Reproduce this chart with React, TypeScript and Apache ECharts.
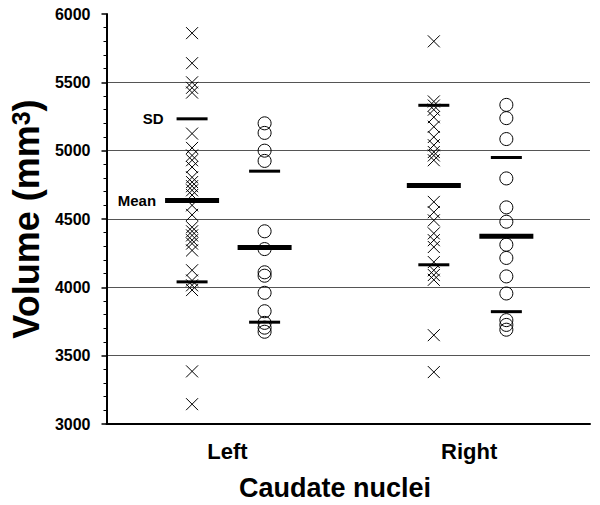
import React, { useEffect, useRef } from "react";
import * as echarts from "echarts";

// Categories (hemispheres) and their centre positions on the x scale
const groups = ["Left", "Right"];
const groupCenters = [0.5, 1.5];
const crossOffset = -0.146;
const circleOffset = 0.154;

// Individual volumes (mm3)
const leftCross = [5860, 5640, 5500, 5460, 5425, 5125, 5020, 4965, 4930, 4880, 4805, 4770, 4740, 4710, 4675, 4600, 4530, 4440, 4410, 4380, 4345, 4320, 4270, 4125, 4050, 4015, 3980, 3385, 3145];
const leftCircle = [5200, 5130, 5000, 4925, 4410, 4280, 4110, 4085, 3960, 3825, 3740, 3705, 3675];
const rightCross = [5800, 5360, 5330, 5300, 5245, 5175, 5100, 5040, 4990, 4965, 4930, 4625, 4550, 4490, 4395, 4345, 4295, 4185, 4125, 4090, 4055, 3650, 3380];
const rightCircle = [5335, 5238, 5085, 4797, 4585, 4480, 4312, 4215, 4080, 3955, 3760, 3725, 3690];

// Means and ±SD (per group: Left, Right)
const crossMean = [4635, 4746];
const crossSdUpper = [5233, 5332];
const crossSdLower = [4040, 4165];
const circleMean = [4292, 4373];
const circleSdUpper = [4850, 4950];
const circleSdLower = [3745, 3822];

// Y axis ticks
const yMin = 3000;
const yMax = 6000;
const yStep = 500;

const FONT = "'Liberation Sans', Arial, Helvetica, sans-serif";
const CROSS = "path://M0,0L10,10M10,0L0,10";

export default function App() {
  const ref = useRef<HTMLDivElement>(null);

  useEffect(() => {
    if (!ref.current) return;
    const chart = echarts.init(ref.current, undefined, { renderer: "svg" });

    const pts = (vals: number[], x: number) => vals.map((v) => [x, v]);
    const markerStyle = { color: "rgba(0,0,0,0)", borderColor: "#000", borderWidth: 1, opacity: 1 };
    const labelStyle = { fontFamily: FONT, fontWeight: "bold", fontSize: 15, color: "#000", opacity: 1 };

    const meanData = [
      {
        value: [groupCenters[0] + crossOffset, crossMean[0]],
        label: { show: true, position: "left", distance: 9, formatter: "Mean", ...labelStyle },
      },
      [groupCenters[0] + circleOffset, circleMean[0]],
      [groupCenters[1] + crossOffset, crossMean[1]],
      [groupCenters[1] + circleOffset, circleMean[1]],
    ];
    const sdData = [
      {
        value: [groupCenters[0] + crossOffset, crossSdUpper[0]],
        label: { show: true, position: "left", distance: 13, formatter: "SD", ...labelStyle },
      },
      [groupCenters[0] + crossOffset, crossSdLower[0]],
      [groupCenters[0] + circleOffset, circleSdUpper[0]],
      [groupCenters[0] + circleOffset, circleSdLower[0]],
      [groupCenters[1] + crossOffset, crossSdUpper[1]],
      [groupCenters[1] + crossOffset, crossSdLower[1]],
      [groupCenters[1] + circleOffset, circleSdUpper[1]],
      [groupCenters[1] + circleOffset, circleSdLower[1]],
    ];

    chart.setOption({
      animation: false,
      backgroundColor: "#fff",
      grid: { left: 100, right: 10, top: 14, bottom: 81 },
      graphic: [
        {
          type: "text",
          x: 335,
          y: 474,
          style: {
            text: "Caudate nuclei",
            fontFamily: FONT,
            fontWeight: "bold",
            fontSize: 27,
            fill: "#000",
            textAlign: "center",
            textVerticalAlign: "top",
          },
        },
      ],
      xAxis: {
        type: "value",
        min: 0,
        max: 2,
        interval: 0.5,
        axisLine: { show: true, lineStyle: { color: "#000", width: 2 } },
        axisTick: { show: false },
        splitLine: { show: false },
        axisLabel: {
          margin: 16,
          fontFamily: FONT,
          fontWeight: "bold",
          fontSize: 22,
          color: "#000",
          formatter: (v: number) => {
            const i = groupCenters.findIndex((c) => Math.abs(c - v) < 1e-6);
            return i >= 0 ? groups[i] : "";
          },
        },
      },
      yAxis: {
        type: "value",
        min: yMin,
        max: yMax,
        interval: yStep,
        name: "{a|Volume (mm}{b|3}{a|)}",
        nameLocation: "middle",
        nameGap: 58,
        nameTextStyle: {
          rich: {
            a: { fontFamily: FONT, fontWeight: "bold", fontSize: 36, color: "#000" },
            b: { fontFamily: FONT, fontWeight: "bold", fontSize: 25, color: "#000", verticalAlign: "top" },
          },
        },
        axisLine: { show: true, lineStyle: { color: "#000", width: 2 } },
        axisTick: { show: true, length: 5, lineStyle: { color: "#000", width: 1.5 } },
        minorTick: { show: true, splitNumber: 5, length: 3, lineStyle: { color: "#000", width: 1 } },
        splitLine: { show: true, showMaxLine: false, lineStyle: { color: "#555", width: 1 } },
        axisLabel: {
          margin: 16,
          fontFamily: FONT,
          fontWeight: "bold",
          fontSize: 16,
          color: "#000",
          formatter: (v: number) => String(v),
        },
      },
      series: [
        { type: "scatter", symbol: CROSS, symbolSize: 12, itemStyle: markerStyle, data: pts(leftCross, groupCenters[0] + crossOffset) },
        { type: "scatter", symbol: "circle", symbolSize: 13, itemStyle: markerStyle, data: pts(leftCircle, groupCenters[0] + circleOffset) },
        { type: "scatter", symbol: CROSS, symbolSize: 12, itemStyle: markerStyle, data: pts(rightCross, groupCenters[1] + crossOffset) },
        { type: "scatter", symbol: "circle", symbolSize: 13, itemStyle: markerStyle, data: pts(rightCircle, groupCenters[1] + circleOffset) },
        { type: "scatter", symbol: "rect", symbolSize: [54, 5], itemStyle: { color: "#000", opacity: 1 }, data: meanData, z: 5 },
        { type: "scatter", symbol: "rect", symbolSize: [31, 3], itemStyle: { color: "#000", opacity: 1 }, data: sdData, z: 5 },
      ],
    });

    return () => chart.dispose();
  }, []);

  return <div ref={ref} style={{ position: "absolute", left: 0, top: 0, width: 600, height: 505 }} />;
}
